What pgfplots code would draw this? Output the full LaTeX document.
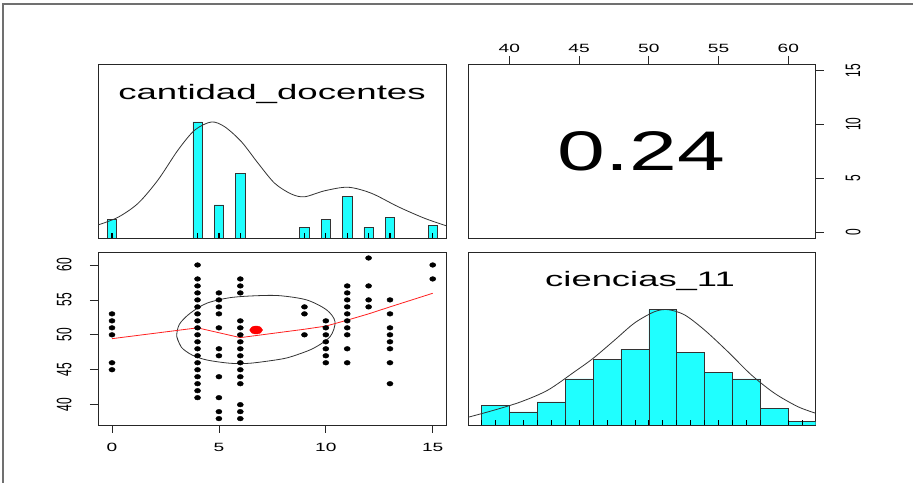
\documentclass[border=0pt]{standalone}
\usepackage{pgfplots}
\pgfplotsset{compat=1.18}
\usepackage{fontspec}
\setmainfont{Liberation Sans}
\usepackage{graphicx}

\definecolor{histcyan}{HTML}{1FFFFF}
\definecolor{framegray}{HTML}{707070}
\definecolor{lowessred}{HTML}{FF2020}

% horizontally widened text (the page is stretched sideways)
\newcommand\wide[2][1.6]{\scalebox{#1}[1]{#2}}
% same widening for labels that are turned by 90 degrees
\newcommand\tall[2][1.75]{\scalebox{1}[#1]{#2}}
% turned label for the right-hand axis
\newcommand\turned[1]{\rotatebox{90}{\tall{#1}}}
\newcommand\tickfont{\fontsize{12}{14}\selectfont}

\pgfplotsset{
  panel/.style={
    scale only axis,
    axis line style={black!85, line width=0.8bp},
    tick style={black!85, line width=0.8bp},
    tick align=outside,
    major tick length=8bp,
    xtick=\empty, ytick=\empty,
  },
}

\begin{document}
\begin{tikzpicture}[x=1bp,y=1bp]
\path[use as bounding box, fill=white] (0,0) rectangle (913,483);
\draw[framegray, line width=1.5bp] (3,0) -- (3,479) -- (913,479);

% ---------- cantidad_docentes: histogram and density ----------
\begin{axis}[panel, at={(98bp,245bp)}, anchor=south west,
  width=348bp, height=174bp,
  xmin=-0.655, xmax=15.62, ymin=0, ymax=84]
\addplot[ybar, bar width=0.44, bar shift=0pt, fill=histcyan,
  draw=black!80, line width=0.6bp]
  coordinates {(0,9)(4,56)(5,16)(6,31)(9,5)(10,9)(11,20)(12,5)(13,10)(15,6)};
\addplot[ycomb, black, line width=1.3bp, no marks]
  coordinates {(0,2.4)(4,2.4)(5,2.4)(6,2.4)(9,2.4)(10,2.4)(11,2.4)(12,2.4)(13,2.4)(15,2.4)};
\addplot[smooth, black!80, line width=0.8bp]
  coordinates {(-0.655,6.28)(0.28,9.99)(1.22,16.75)(2.15,28.0)(3.09,42.5)
  (3.87,52.1)(4.65,56.0)(5.27,53.7)(6.05,46.5)(6.83,36.1)(7.61,26.4)
  (8.39,21.2)(9.01,19.9)(9.95,22.8)(11.04,24.5)(12.13,21.6)(13.38,15.1)
  (14.62,9.5)(15.62,5.94)};
\end{axis}
\node[anchor=base, font=\fontsize{21}{24}\selectfont] at (272,383.7)
  {\wide[1.75]{cantidad\_docentes}};

% ---------- correlation panel ----------
\begin{axis}[panel, at={(468bp,245bp)}, anchor=south west,
  width=347.5bp, height=174bp,
  xmin=37.04, xmax=61.95, ymin=-0.55, ymax=15.6,
  xtick={40,45,50,55,60},
  xticklabels={\wide{40},\wide{45},\wide{50},\wide{55},\wide{60}},
  xtick pos=right, xticklabel pos=right,
  xticklabel style={font=\tickfont, anchor=south},
  ytick={0,5,10,15},
  yticklabels={\turned{0},\turned{5},\turned{10},\turned{15}},
  ytick pos=right, yticklabel pos=right,
  yticklabel style={font=\tickfont, anchor=west, inner sep=0pt, xshift=22bp}]
\end{axis}
\node[font=\fontsize{56}{60}\selectfont] at (641.5,331.5) {\wide[1.54]{0.24}};

% ---------- scatter of ciencias_11 against cantidad_docentes ----------
\begin{axis}[panel, at={(98bp,58bp)}, anchor=south west,
  width=348bp, height=173bp,
  xmin=-0.655, xmax=15.62, ymin=37.09, ymax=61.86,
  xtick={0,5,10,15},
  xticklabels={\wide{0},\wide{5},\wide{10},\wide{15}},
  xtick pos=left, xticklabel pos=left,
  xticklabel shift=7bp,
  xticklabel style={font=\tickfont, anchor=north},
  ytick={40,45,50,55,60},
  yticklabels={\tall{40},\tall{45},\tall{50},\tall{55},\tall{60}},
  ytick pos=left, yticklabel pos=left,
  yticklabel shift=15bp,
  yticklabel style={font=\tickfont, rotate=90, anchor=south}]
\addplot[only marks, mark=*, mark size=2.35bp,
  mark options={xscale=1.3, fill=black, draw=black}]
  table[row sep=\\] {
  x y \\
  0 53 \\ 0 52 \\ 0 51 \\ 0 50 \\ 0 46 \\ 0 45 \\
  4 60 \\ 4 58 \\ 4 57 \\ 4 56 \\ 4 55 \\ 4 54 \\ 4 53 \\ 4 52 \\ 4 51 \\ 4 50 \\
  4 49 \\ 4 48 \\ 4 47 \\ 4 46 \\ 4 45 \\ 4 44 \\ 4 43 \\ 4 42 \\ 4 41 \\
  5 56 \\ 5 55 \\ 5 54 \\ 5 53 \\ 5 51 \\ 5 48 \\ 5 47 \\ 5 44 \\ 5 41 \\ 5 39 \\ 5 38 \\
  6 58 \\ 6 57 \\ 6 56 \\ 6 52 \\ 6 51 \\ 6 50 \\ 6 49 \\ 6 48 \\ 6 47 \\ 6 46 \\
  6 45 \\ 6 44 \\ 6 43 \\ 6 40 \\ 6 39 \\ 6 38 \\
  9 54 \\ 9 53 \\ 9 50 \\
  10 52 \\ 10 51 \\ 10 50 \\ 10 49 \\ 10 48 \\ 10 47 \\ 10 46 \\
  11 57 \\ 11 56 \\ 11 55 \\ 11 54 \\ 11 53 \\ 11 52 \\ 11 51 \\ 11 50 \\ 11 48 \\ 11 46 \\
  12 61 \\ 12 57 \\ 12 55 \\ 12 54 \\
  13 55 \\ 13 53 \\ 13 51 \\ 13 50 \\ 13 49 \\ 13 48 \\ 13 46 \\ 13 43 \\
  15 60 \\ 15 58 \\
  };
% correlation ellipse around the means
\addplot[smooth, black!80, line width=0.8bp]
  coordinates {(3.03,49.74)(3.25,48.2)(3.75,47.1)(4.43,46.40)(5.52,45.93)
  (6.45,45.93)(7.86,46.50)(8.48,46.97)(9.42,48.07)(10.2,49.74)(10.43,51.88)
  (10.04,53.56)(9.11,54.99)(7.86,55.60)(6.77,55.60)(5.52,55.32)(4.43,54.52)
  (3.65,53.08)(3.15,51.5)(3.03,49.74)(3.25,48.2)};
% lowess smooth
\addplot[lowessred, line width=0.8bp]
  coordinates {(0,49.45)(4,51.0)(5,50.3)(6,49.6)(9,50.8)(10,51.25)
  (11,52.1)(12,53.0)(13,54.0)(15,55.95)};
% point of means
\addplot[only marks, mark=*, mark size=4bp,
  mark options={xscale=1.6, fill=red, draw=red}]
  coordinates {(6.74,50.69)};
\end{axis}

% ---------- ciencias_11: histogram and density ----------
\begin{axis}[panel, at={(468bp,58bp)}, anchor=south west,
  width=347.5bp, height=173bp,
  xmin=37.04, xmax=61.95, ymin=0, ymax=52.5]
\addplot[ybar, bar width=2, bar shift=0pt, fill=histcyan,
  draw=black!80, line width=0.6bp]
  coordinates {(39,6)(41,4)(43,7)(45,14)(47,20)(49,23)(51,35)(53,22)
  (55,16)(57,14)(59,5)(61,1)};
\addplot[ycomb, black, line width=0.7bp, no marks]
  coordinates {(38,1.5)(39,1.5)(40,1.5)(41,1.5)(42,1.5)(43,1.5)(44,1.5)
  (45,1.5)(46,1.5)(47,1.5)(48,1.5)(49,1.5)(50,1.5)(51,1.5)(52,1.5)(53,1.5)
  (54,1.5)(55,1.5)(56,1.5)(57,1.5)(58,1.5)(60,1.5)(61,1.5)};
\addplot[smooth, black!80, line width=0.8bp]
  coordinates {(37.04,2.34)(38.95,4.55)(40.86,7.08)(42.77,10.6)(44.69,16.2)
  (46.0,20.2)(47.56,25.8)(48.99,31.0)(50.42,34.4)(51.38,35.0)(52.57,33.4)
  (54.0,28.8)(55.68,22.2)(57.35,15.2)(59.02,9.6)(60.69,5.55)(61.98,3.55)};
\end{axis}
\node[anchor=base, font=\fontsize{21}{24}\selectfont] at (640,196.3)
  {\wide[1.74]{ciencias\_11}};
\end{tikzpicture}
\end{document}
